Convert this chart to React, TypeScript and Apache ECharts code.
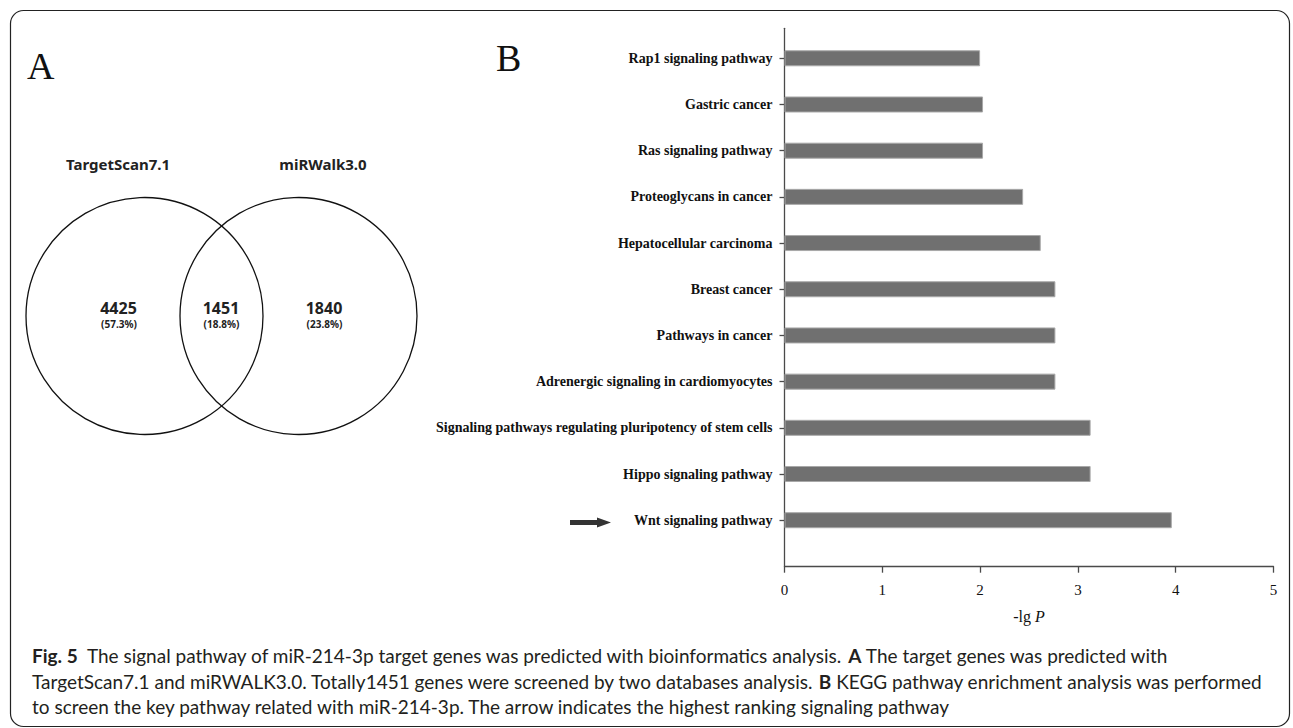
import React, { useEffect, useRef } from 'react';
import * as echarts from 'echarts';

// ---- Panel B data (KEGG pathways, top to bottom) ----
const categories = [
  'Rap1 signaling pathway',
  'Gastric cancer',
  'Ras signaling pathway',
  'Proteoglycans in cancer',
  'Hepatocellular carcinoma',
  'Breast cancer',
  'Pathways in cancer',
  'Adrenergic signaling in cardiomyocytes',
  'Signaling pathways regulating pluripotency of stem cells',
  'Hippo signaling pathway',
  'Wnt signaling pathway',
];
const values = [2.0, 2.03, 2.03, 2.44, 2.62, 2.77, 2.77, 2.77, 3.13, 3.13, 3.96];
const xMin = 0;
const xMax = 5;
const xInterval = 1;

// ---- Panel A data (Venn) ----
const vennSets = ['TargetScan7.1', 'miRWalk3.0'];
const vennCounts = ['4425', '1451', '1840'];
const vennPercents = ['(57.3%)', '(18.8%)', '(23.8%)'];

// ---- Caption ----
const captionLines = [
  '{b|Fig. 5}  The signal pathway of miR-214-3p target genes was predicted with bioinformatics analysis. {b|A} The target genes was predicted with',
  'TargetScan7.1 and miRWALK3.0. Totally1451 genes were screened by two databases analysis. {b|B} KEGG pathway enrichment analysis was performed',
  'to screen the key pathway related with miR-214-3p. The arrow indicates the highest ranking signaling pathway',
];

const SERIF = '"Liberation Serif", "Times New Roman", serif';
const SANS = '"Noto Sans", "DejaVu Sans", sans-serif';
const CAP = 'Lato, "Noto Sans", sans-serif';

export default function App() {
  const ref = useRef<HTMLDivElement>(null);
  useEffect(() => {
    document.body.style.margin = '0';
    const chart = echarts.init(ref.current as HTMLDivElement, null, { renderer: 'svg' });

    const cL = { x: 144.5, y: 316 };
    const cR = { x: 298.5, y: 316 };
    const r = 118.5;

    const graphics: any[] = [
      {
        type: 'rect',
        shape: { x: 10.5, y: 10.5, width: 1279, height: 716, r: 13 },
        style: { fill: 'none', stroke: '#222', lineWidth: 1.2 },
        silent: true,
      },
      { type: 'text', x: 27, y: 85, style: { text: 'A', font: `38px ${SERIF}`, fill: '#111', verticalAlign: 'bottom' } },
      { type: 'text', x: 496, y: 77, style: { text: 'B', font: `38px ${SERIF}`, fill: '#111', verticalAlign: 'bottom' } },
      { type: 'circle', shape: { cx: cL.x, cy: cL.y, r }, style: { fill: 'none', stroke: '#111', lineWidth: 1.3 } },
      { type: 'circle', shape: { cx: cR.x, cy: cR.y, r }, style: { fill: 'none', stroke: '#111', lineWidth: 1.3 } },
      { type: 'text', x: 118, y: 164, style: { text: vennSets[0], font: `bold 15px ${SANS}`, fill: '#222', align: 'center', verticalAlign: 'middle' } },
      { type: 'text', x: 323, y: 164, style: { text: vennSets[1], font: `bold 15px ${SANS}`, fill: '#222', align: 'center', verticalAlign: 'middle' } },
    ];
    const countX = [118.5, 221, 324];
    countX.forEach((x, i) => {
      graphics.push({ type: 'text', x, y: 308, style: { text: vennCounts[i], font: `bold 16px ${SANS}`, fill: '#222', align: 'center', verticalAlign: 'middle' } });
      graphics.push({ type: 'text', x: x + 0.5, y: 324, style: { text: vennPercents[i], font: `bold 10px ${SANS}`, fill: '#222', align: 'center', verticalAlign: 'middle' } });
    });
    // arrow pointing to Wnt
    graphics.push({
      type: 'polygon',
      shape: { points: [[570, 520], [597, 520], [597, 517.5], [611, 522.5], [597, 527.5], [597, 525], [570, 525]] },
      style: { fill: '#333' },
    });
    const capY = [655, 681, 706];
    captionLines.forEach((t, i) => {
      graphics.push({
        type: 'text', x: 32, y: capY[i],
        style: {
          text: t, fill: '#231f20', verticalAlign: 'middle',
          fontFamily: CAP, fontSize: 19,
          rich: { b: { fontFamily: CAP, fontSize: 19, fontWeight: 'bold', fill: '#231f20' } },
        },
      });
    });

    const axisColor = '#4a4a4a';
    chart.setOption({
      animation: false,
      grid: [
        { left: 784.5, right: 19.5, top: 28.3, bottom: 161.3, containLabel: false },
        { left: 784.5, right: 19.5, top: 35.2, bottom: 184.7, containLabel: false },
      ],
      xAxis: [
        {
          gridIndex: 0, type: 'value', min: xMin, max: xMax, interval: xInterval,
          axisLine: { show: true, lineStyle: { color: axisColor, width: 1.3 } },
          axisTick: { show: true, length: 6, lineStyle: { color: axisColor, width: 1.3 } },
          axisLabel: { color: '#111', fontFamily: SERIF, fontSize: 15, margin: 16 },
          splitLine: { show: false },
          name: '-lg {i|P}', nameLocation: 'middle', nameGap: 42,
          nameTextStyle: { color: '#111', fontFamily: SERIF, fontSize: 16, rich: { i: { fontStyle: 'italic', fontFamily: SERIF, fontSize: 16, color: '#111' } } },
        },
        { gridIndex: 1, type: 'value', min: xMin, max: xMax, show: false },
      ],
      yAxis: [
        {
          gridIndex: 0, type: 'value', min: 0, max: 1,
          axisLine: { show: true, lineStyle: { color: axisColor, width: 1.3 } },
          axisTick: { show: false }, axisLabel: { show: false }, splitLine: { show: false },
        },
        {
          gridIndex: 1, type: 'category', data: categories, inverse: true,
          axisLine: { show: false },
          axisTick: { show: true, alignWithLabel: true, length: 5, lineStyle: { color: axisColor, width: 1.3 } },
          axisLabel: { color: '#111', fontFamily: SERIF, fontWeight: 'bold', fontSize: 14, margin: 12 },
        },
      ],
      series: [
        {
          type: 'bar', xAxisIndex: 1, yAxisIndex: 1, data: values, barWidth: 16,
          itemStyle: { color: '#707070', borderColor: '#a8a8a8', borderWidth: 1 },
        },
      ],
      graphic: graphics,
    });
    return () => chart.dispose();
  }, []);
  return <div ref={ref} style={{ width: 1293, height: 728 }} />;
}
